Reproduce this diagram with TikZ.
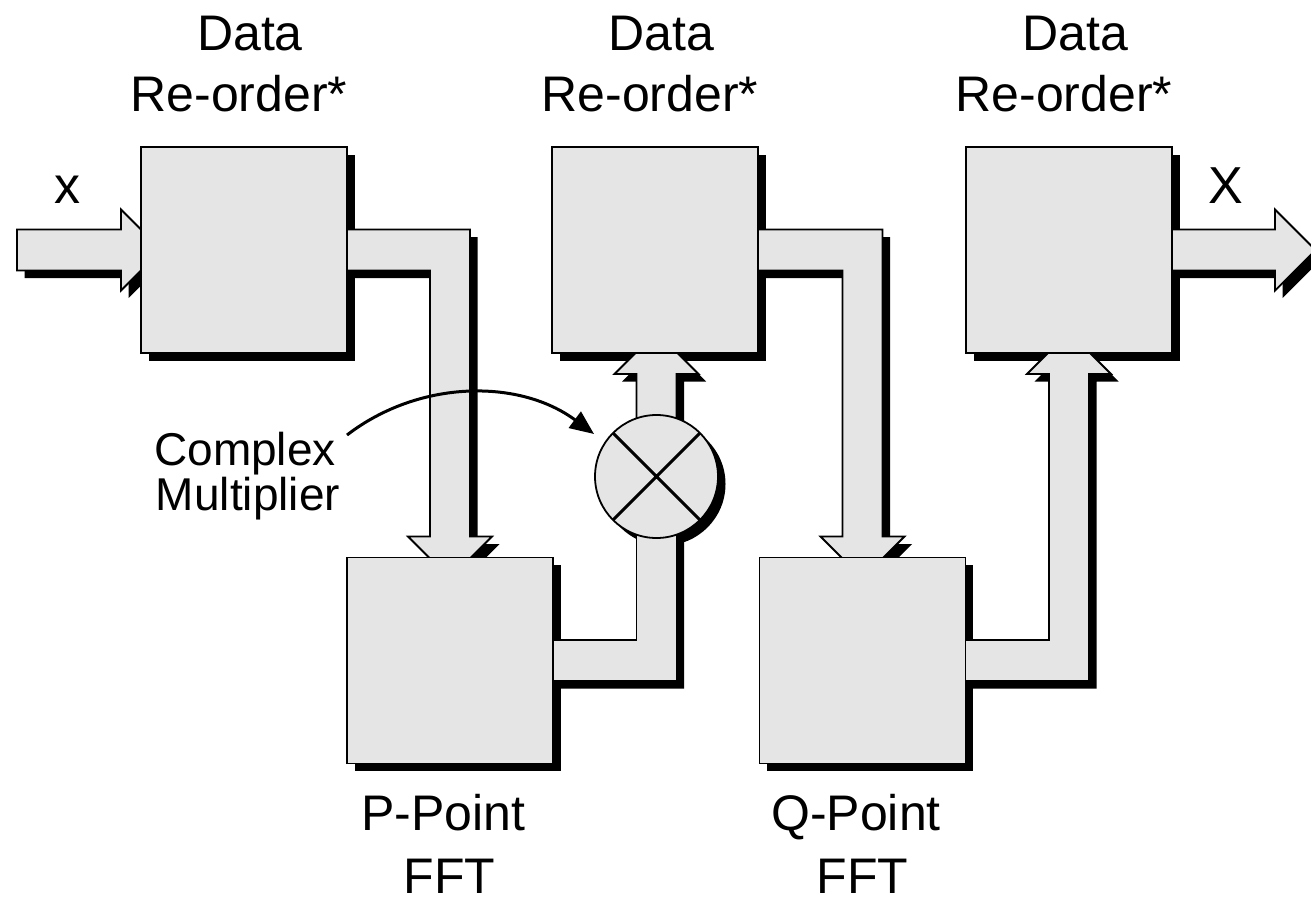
\documentclass[tikz,border=0pt]{standalone}
\usepackage{fontspec}
\setmainfont{Liberation Sans}
\usetikzlibrary{arrows.meta,calc}
\definecolor{boxgray}{RGB}{229,229,229}
\pgfdeclarelayer{shadowl}
\pgfdeclarelayer{pipel}
\pgfsetlayers{shadowl,pipel,main}
\begin{document}
\begin{tikzpicture}[x=1pt,y=-1pt,
  blk/.style={draw=black,fill=boxgray,line width=1.8pt,minimum width=206pt,minimum height=206pt,inner sep=0pt,outer sep=0pt},
  mult/.style={circle,draw=black,fill=boxgray,line width=1.8pt,minimum size=123pt,inner sep=0pt,outer sep=0pt},
  pipe/.style={draw=black,fill=boxgray,line width=1.8pt,line join=miter,
    preaction={fill=black,draw=none,transform canvas={shift={(7.5pt,-7.5pt)}}}},
  big/.style={font=\fontsize{50pt}{61pt}\selectfont,inner sep=0pt,anchor=base},
  small/.style={font=\fontsize{46pt}{46pt}\selectfont,inner sep=0pt,anchor=base},
  io/.style={font=\fontsize{52pt}{52pt}\selectfont,inner sep=0pt,anchor=base},
  pointer/.style={line width=3pt,-{Triangle[length=24pt,width=20pt]}}]
\useasboundingbox (0,0) rectangle (1311,897);
\clip (0,0) rectangle (1311,897);

% blocks
\node[blk] (r1) at (244,250) {};
\node[blk] (r2) at (655,250) {};
\node[blk] (r3) at (1069,250) {};
\node[blk] (p) at (450,660.5) {};
\node[blk] (q) at (862.5,660.5) {};
\node[mult] (m) at (656.5,476.5) {};
\draw[line width=3pt] (m.north west) -- (m.south east) (m.north east) -- (m.south west);

% shadows of blocks
\begin{pgfonlayer}{shadowl}
\foreach \n in {r1,r2,r3,p,q}{
  \fill[black] ([shift={(7.5pt,-7.5pt)}]\n.north west) rectangle ([shift={(7.5pt,-7.5pt)}]\n.south east);
}
\fill[black] ([shift={(7.5pt,-7.5pt)}]m.center) circle[radius=61.5pt];
\end{pgfonlayer}

% broad arrows
\begin{pgfonlayer}{pipel}
% input x
\coordinate (xin0) at (17,229.5);
\draw[pipe] (xin0) -- ($(r1.west)+(-20,-20.5)$) -- ($(r1.west)+(-20,-40.5)$)
  -- ($(r1.west)+(20.5,0)$) -- ($(r1.west)+(-20,40.5)$) -- ($(r1.west)+(-20,20.5)$)
  -- (xin0 |- 0,270.5) -- cycle;
% output X
\draw[pipe] ($(r3.center)+(0,-20.5)$) -- ($(r3.east)+(103,-20.5)$) -- ++(0,-20)
  -- ($(r3.east)+(143.5,0)$) -- ($(r3.east)+(103,40.5)$) -- ++(0,-20)
  -- ($(r3.center)+(0,20.5)$) -- cycle;
% r1 -> p
\draw[pipe] ($(r1.center)+(0,-20.5)$) -| ($(p.north)+(20,-21)$) -- ++(22,0)
  -- ($(p.north)+(0,21)$) -- ($(p.north)+(-42,-21)$) -- ++(22,0)
  |- ($(r1.center)+(0,20.5)$) -- cycle;
% r2 -> q
\draw[pipe] ($(r2.center)+(0,-20.5)$) -| ($(q.north)+(20,-21)$) -- ++(22,0)
  -- ($(q.north)+(0,21)$) -- ($(q.north)+(-42,-21)$) -- ++(22,0)
  |- ($(r2.center)+(0,20.5)$) -- cycle;
% p -> m
\draw[pipe] ($(p.center)+(0,-20.5)$) -| ($(m.center)+(-20,0)$) -- ($(m.center)+(20,0)$)
  |- ($(p.center)+(0,20.5)$) -- cycle;
% m -> r2
\coordinate (d0) at (m.center |- r2.south);
\draw[pipe] ($(m.center)+(-20,0)$) -- ($(d0)+(-20,21)$) -- ++(-22,0)
  -- ($(d0)+(0,-21)$) -- ($(d0)+(42,21)$) -- ++(-22,0)
  -- ($(m.center)+(20,0)$) -- cycle;
% q -> r3
\draw[pipe] ($(q.center)+(0,20.5)$) -| ($(r3.south)+(20,21)$) -- ++(22,0)
  -- ($(r3.south)+(0,-21)$) -- ($(r3.south)+(-42,21)$) -- ++(22,0)
  |- ($(q.center)+(0,-20.5)$) -- cycle;
\end{pgfonlayer}

% pointer to the multiplier
\coordinate (cs) at (347,435);
\coordinate (ce) at (594,434);
\draw[pointer] (cs) .. controls (420,379) and (520,379) .. (ce);

% labels
\node[big] (t1a) at (250,50) {Data};
\node[big] (t1b) at (239,111) {Re-order*};
\node[big] (t2a) at (661,50) {Data};
\node[big] (t2b) at (650,111) {Re-order*};
\node[big] (t3a) at (1075,50) {Data};
\node[big] (t3b) at (1064,111) {Re-order*};
\node[big] (pa) at (443,830) {P-Point};
\node[big] (pb) at (449.5,893) {FFT};
\node[big] (qa) at (856,830) {Q-Point};
\node[big] (qb) at (862.5,893) {FFT};
\node[small] (ca) at (245,465) {Complex};
\node[small] (cb) at (248,510) {Multiplier};
\node[io] (xl) at (67,203) {x};
\node[io] (xr) at (1226,203) {X};
\end{tikzpicture}
\end{document}
